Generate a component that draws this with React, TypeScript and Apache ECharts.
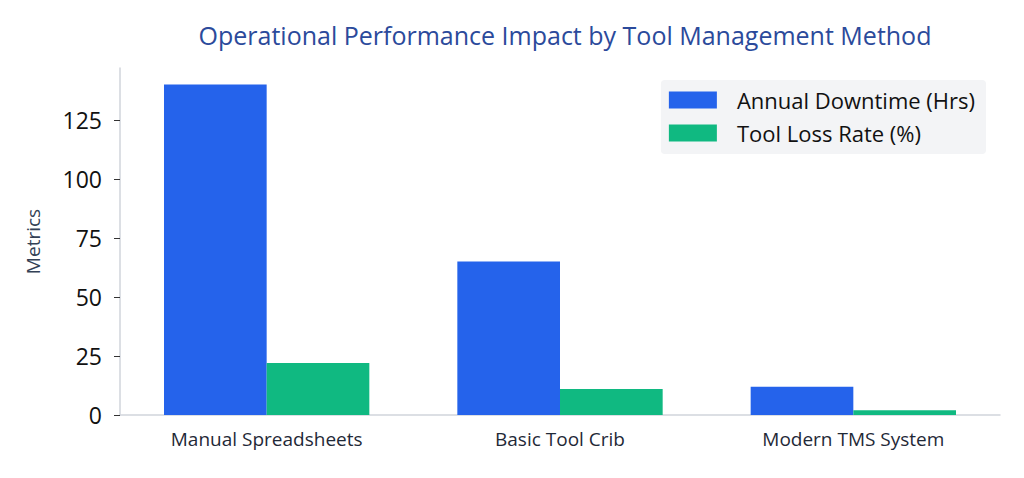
import React, { useEffect, useRef } from 'react';
import * as echarts from 'echarts';

const categories = ['Manual Spreadsheets', 'Basic Tool Crib', 'Modern TMS System'];
const downtimeHrs = [140, 65, 12];
const toolLossRate = [22, 11, 2];
const yTicks = { min: 0, max: 147, interval: 25 };

const FONT = "'Open Sans', 'Noto Sans', sans-serif";

const App: React.FC = () => {
  const chartRef = useRef<HTMLDivElement>(null);

  useEffect(() => {
    if (!chartRef.current) return;

    const chart = echarts.init(chartRef.current, undefined, { renderer: 'svg' });

    const option = {
      animation: false,
      textStyle: { fontFamily: FONT },
      title: {
        text: 'Operational Performance Impact by Tool Management Method',
        left: 560,
        textAlign: 'center',
        top: 17,
        textStyle: {
          color: '#2b4a9b',
          fontSize: 25,
          fontWeight: 'normal',
          fontFamily: FONT
        }
      },
      grid: {
        left: 120,
        right: 24,
        top: 68,
        bottom: 63
      },
      legend: {
        orient: 'vertical',
        right: 38,
        top: 80,
        icon: 'rect',
        itemWidth: 48,
        itemHeight: 17,
        itemGap: 11,
        padding: [9, 11, 10, 8],
        backgroundColor: '#f3f4f6',
        borderRadius: 4,
        textStyle: {
          color: '#111111',
          fontSize: 22,
          padding: [0, 0, 0, 15],
          fontFamily: FONT
        },
        data: ['Annual Downtime (Hrs)', 'Tool Loss Rate (%)']
      },
      xAxis: {
        type: 'category',
        data: categories,
        axisLine: { lineStyle: { color: '#d1d5db', width: 1.5 } },
        axisTick: { alignWithLabel: true, length: 6, lineStyle: { color: '#333333' } },
        axisLabel: { color: '#1f2937', fontSize: 19, margin: 14 }
      },
      yAxis: {
        type: 'value',
        min: yTicks.min,
        max: yTicks.max,
        interval: yTicks.interval,
        name: 'Metrics',
        nameLocation: 'middle',
        nameGap: 78,
        nameTextStyle: { color: '#334155', fontSize: 19 },
        axisLine: { show: true, lineStyle: { color: '#d1d5db', width: 1.5 } },
        axisTick: { show: true, length: 6, lineStyle: { color: '#333333' } },
        splitLine: { show: false },
        axisLabel: {
          color: '#111111',
          fontSize: 23,
          margin: 18,
          showMaxLabel: false
        }
      },
      series: [
        {
          name: 'Annual Downtime (Hrs)',
          type: 'bar',
          data: downtimeHrs,
          barWidth: '35%',
          barGap: '0%',
          itemStyle: { color: '#2563eb' }
        },
        {
          name: 'Tool Loss Rate (%)',
          type: 'bar',
          data: toolLossRate,
          barWidth: '35%',
          itemStyle: { color: '#10b981' }
        }
      ]
    };

    chart.setOption(option);

    const handleResize = () => {
      chart.resize();
    };

    window.addEventListener('resize', handleResize);

    return () => {
      chart.dispose();
      window.removeEventListener('resize', handleResize);
    };
  }, []);

  return <div ref={chartRef} style={{ width: '1024px', height: '478px', margin: '-8px' }} />;
};

export default App;
